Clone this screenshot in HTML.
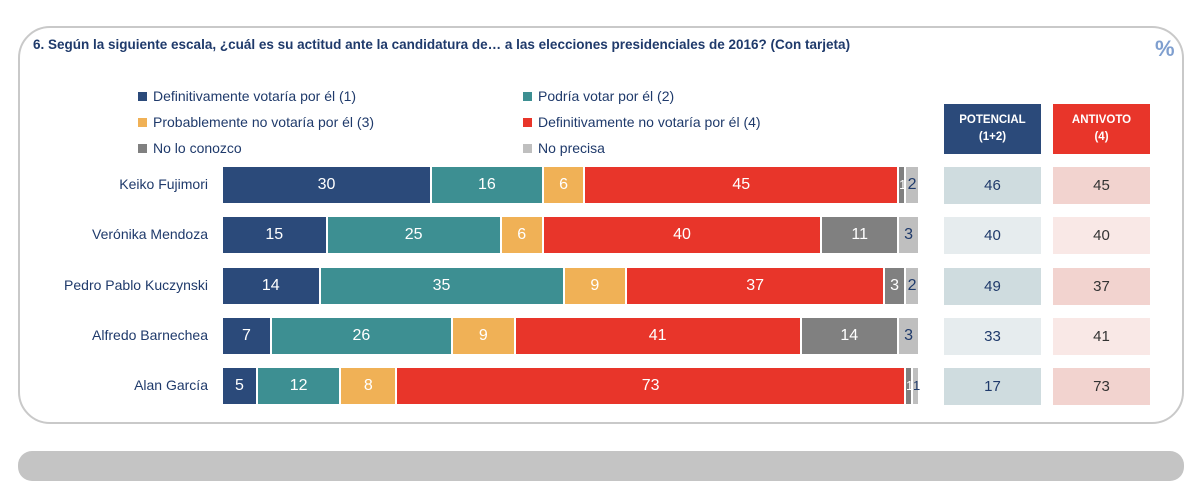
<!DOCTYPE html>
<html><head><meta charset="utf-8"><style>
body{margin:0;width:1200px;height:455px;background:#fff;font-family:"Liberation Sans",sans-serif;position:relative;overflow:hidden}
.card{position:absolute;left:18px;top:26px;width:1166px;height:398px;border:2px solid #c9c9c9;border-radius:32px;box-sizing:border-box}
.bot{position:absolute;left:18px;top:451px;width:1166px;height:30px;background:#c4c4c4;border-radius:14px}
.title{position:absolute;left:33px;top:37px;font-size:13.5px;font-weight:bold;color:#1f3a6b}
.pct{position:absolute;left:1155px;top:36px;font-size:22px;font-weight:bold;color:#7f9fcf}
.leg{position:absolute;font-size:14px;color:#1f3a6b;white-space:nowrap}
.leg i{display:inline-block;width:9px;height:9px;margin-right:6px;vertical-align:0}
.lab{position:absolute;width:190px;left:18px;text-align:right;font-size:14px;color:#1f3a6b}
.seg{position:absolute;height:36px;box-sizing:border-box;border-right:2px solid #fff;color:#fff;font-size:16px;text-align:center;line-height:36px;overflow:visible;white-space:nowrap}
.hdr{position:absolute;top:104px;width:97px;height:50px;color:#fff;font-size:11.5px;font-weight:bold;text-align:center;display:flex;align-items:center;justify-content:center;line-height:17px}
.cell{position:absolute;width:97px;height:37px;line-height:37px;text-align:center;font-size:15px}
</style></head><body>
<div class="card"></div>
<div class="bot"></div>
<div class="title">6. Según la siguiente escala, ¿cuál es su actitud ante la candidatura de… a las elecciones presidenciales de 2016? (Con tarjeta)</div>
<div class="pct">%</div>
<div id="legend"></div>
<div id="chart"></div>
<div class="hdr" style="left:944px;background:#2b4a7a">POTENCIAL<br>(1+2)</div>
<div class="hdr" style="left:1053px;background:#e8352a">ANTIVOTO<br>(4)</div>
<script>
const categories=["Keiko Fujimori","Verónika Mendoza","Pedro Pablo Kuczynski","Alfredo Barnechea","Alan García"];
const def1=[30,15,14,7,5];
const podria2=[16,25,35,26,12];
const prob3=[6,6,9,9,8];
const def4=[45,40,37,41,73];
const noConozco=[1,11,3,14,1];
const noPrecisa=[2,3,2,3,1];
const potencial=[46,40,49,33,17];
const antivoto=[45,40,37,41,73];
const seriesNames=["Definitivamente votaría por él (1)","Podría votar por él (2)","Probablemente no votaría por él (3)","Definitivamente no votaría por él (4)","No lo conozco","No precisa"];
const colors=["#2b4a7a","#3d8f92","#f0b156","#e8352a","#808080","#bfbfbf"];
const series=[def1,podria2,prob3,def4,noConozco,noPrecisa];
const x0=223,scale=6.97;
const xs=v=>v*scale;
const rowY=i=>167+i*50.3;
const leg=document.getElementById('legend');
seriesNames.forEach((n,i)=>{
  const d=document.createElement('div');d.className='leg';
  d.style.left=(i%2?523:138)+'px';d.style.top=(88+Math.floor(i/2)*26)+'px';
  d.innerHTML='<i style="background:'+colors[i]+'"></i>'+n;
  
  
  leg.appendChild(d);
});
const ch=document.getElementById('chart');
categories.forEach((c,r)=>{
  const y=rowY(r);
  const l=document.createElement('div');l.className='lab';l.style.top=(y+9)+'px';l.textContent=c;
  
  
  ch.appendChild(l);
  let acc=0;
  series.forEach((s,k)=>{
    const v=s[r];const b=document.createElement('div');b.className='seg';
    b.style.left=(x0+xs(acc))+'px';b.style.top=y+'px';b.style.width=xs(v)+'px';b.style.background=colors[k];
    if(k==5){b.style.color='#1f3a6b';}
    if(v<2&&k>=4){b.style.fontSize='13px';}
    b.textContent=v;
    
    
    ch.appendChild(b);acc+=v;
  });
  const dark=r%2==0;
  const p=document.createElement('div');p.className='cell';p.style.left='944px';p.style.top=y+'px';
  p.style.background=dark?'#cfdcdf':'#e6ecee';p.style.color='#1f3a6b';p.textContent=potencial[r];
  
  
  ch.appendChild(p);
  const a=document.createElement('div');a.className='cell';a.style.left='1053px';a.style.top=y+'px';
  a.style.background=dark?'#f2d3cf':'#f9e8e6';a.style.color='#333';a.textContent=antivoto[r];
  
  
  ch.appendChild(a);
});
</script>
</body></html>
